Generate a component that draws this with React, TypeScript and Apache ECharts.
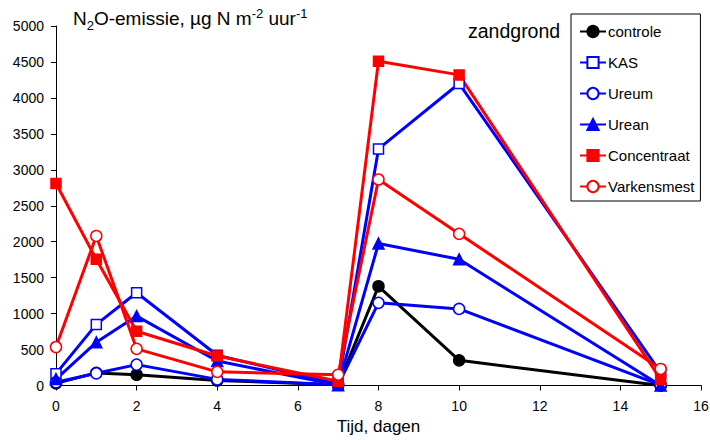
import React, { useEffect, useRef } from "react";
import * as echarts from "echarts";

const days = [0, 1, 2, 4, 7, 8, 10, 15];
const seriesNames = ["controle", "KAS", "Ureum", "Urean", "Concentraat", "Varkensmest"];
const controle = [30, 175, 150, 70, 10, 1380, 350, 0];
const kas = [165, 850, 1290, 420, 20, 3290, 4200, 180];
const ureum = [45, 170, 290, 85, 10, 1150, 1065, 5];
const urean = [90, 600, 965, 340, 5, 1975, 1755, 0];
const concentraat = [2810, 1755, 755, 410, 60, 4510, 4320, 85];
const varkensmest = [535, 2080, 510, 190, 150, 2865, 2110, 230];
const yTicks = { min: 0, max: 5000, interval: 500 };
const xTicks = { min: 0, max: 16, interval: 2 };

const FONT = "Liberation Sans";

export default function App() {
  const ref = useRef<HTMLDivElement>(null);
  useEffect(() => {
    const chart = echarts.init(ref.current!, null, { renderer: "svg" });
    const mk = (
      name: string,
      data: number[],
      color: string,
      symbol: string,
      filled: boolean,
      size: number
    ) => ({
      name,
      type: "line",
      data: days.map((d, i) => [d, data[i]]),
      symbol,
      symbolSize: size,
      showAllSymbol: true,
      lineStyle: { color, width: 3 },
      itemStyle: { color: filled ? color : "#ffffff", borderColor: color, borderWidth: 1.5 },
      emphasis: { disabled: true },
    });
    const base = { fontFamily: FONT, fontWeight: "normal", color: "#000" };
    chart.setOption({
      animation: false,
      textStyle: { fontFamily: FONT },
      grid: { left: 56, right: 9, top: 26, bottom: 54.5, outerBoundsMode: "none", containLabel: false },
      title: {
        text: "{a|N}{s|2}{a|O-emissie, µg N m}{p|-2}{a| uur}{p|-1}",
        left: 73,
        top: 4,
        padding: 0,
        textStyle: {
          fontWeight: "normal",
          rich: {
            a: { ...base, fontSize: 19, lineHeight: 28, verticalAlign: "bottom", padding: [0, 0, 4, 0] },
            s: { ...base, fontSize: 13, lineHeight: 28, verticalAlign: "bottom", padding: [0, 0, 0, 0] },
            p: { ...base, fontSize: 13, lineHeight: 28, verticalAlign: "bottom", padding: [0, 0, 12, 0] },
          },
        },
      },
      graphic: [
        {
          type: "text",
          left: 468,
          top: 21,
          style: { text: "zandgrond", font: `19.5px ${FONT}`, fill: "#000" },
        },
      ],
      legend: {
        orient: "vertical",
        left: 571,
        top: 14,
        data: seriesNames,
        itemWidth: 26,
        itemHeight: 14,
        itemGap: 16,
        padding: [10, 6, 7, 8],
        borderColor: "#000",
        borderWidth: 1,
        backgroundColor: "#fff",
        textStyle: { fontSize: 15, fontFamily: FONT, color: "#000", padding: [0, 0, 0, -3], lineHeight: 14 },
      },
      xAxis: {
        type: "value",
        ...xTicks,
        name: "Tijd, dagen",
        nameLocation: "middle",
        nameGap: 32,
        nameMoveOverlap: false,
        nameTextStyle: { fontSize: 17, fontFamily: FONT, color: "#000" },
        axisLine: { lineStyle: { color: "#000", width: 1 } },
        axisTick: { show: true, inside: false, length: 5, lineStyle: { color: "#000" } },
        axisLabel: { fontSize: 14, fontFamily: FONT, color: "#000", margin: 13 },
        splitLine: { show: false },
      },
      yAxis: {
        type: "value",
        ...yTicks,
        axisLine: { show: true, lineStyle: { color: "#000", width: 1 } },
        axisTick: { show: true, inside: false, length: 5, lineStyle: { color: "#000" } },
        axisLabel: { fontSize: 14, fontFamily: FONT, color: "#000", margin: 12, formatter: (v: number) => String(v) },
        splitLine: { show: false },
      },
      series: [
        mk("controle", controle, "#000000", "circle", true, 11),
        mk("KAS", kas, "#0000ff", "rect", false, 10),
        mk("Ureum", ureum, "#0000ff", "circle", false, 11),
        mk("Urean", urean, "#0000ff", "triangle", true, 11),
        mk("Concentraat", concentraat, "#ff0000", "rect", true, 10),
        mk("Varkensmest", varkensmest, "#ff0000", "circle", false, 11),
      ],
    });
    return () => chart.dispose();
  }, []);
  return <div ref={ref} style={{ position: "absolute", left: 0, top: 0, width: 710, height: 440 }} />;
}
